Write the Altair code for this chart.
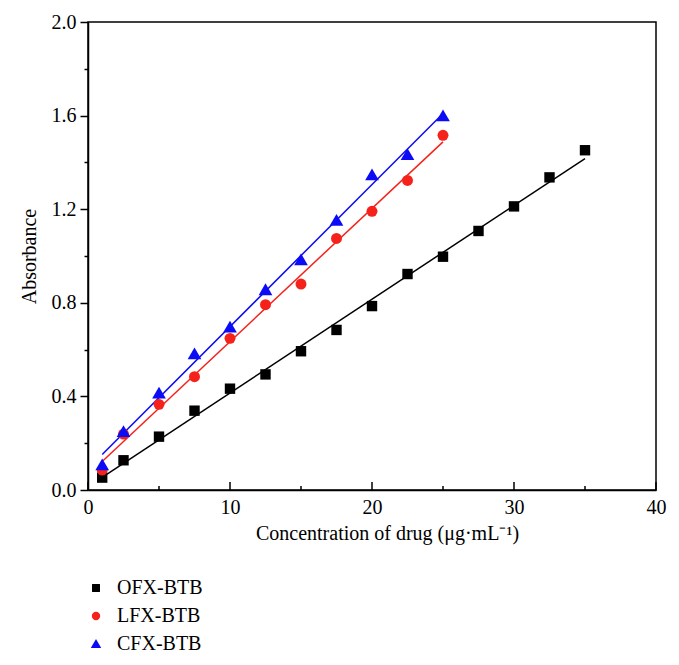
import altair as alt
import pandas as pd

# ---- data ----
ofx_x = [1, 2.5, 5, 7.5, 10, 12.5, 15, 17.5, 20, 22.5, 25, 27.5, 30, 32.5, 35]
ofx_y = [0.053, 0.127, 0.228, 0.339, 0.433, 0.494, 0.593, 0.684, 0.786, 0.923, 0.997, 1.107, 1.212, 1.336, 1.452]
lfx_x = [1, 2.5, 5, 7.5, 10, 12.5, 15, 17.5, 20, 22.5, 25]
lfx_y = [0.085, 0.239, 0.366, 0.484, 0.648, 0.792, 0.880, 1.075, 1.191, 1.323, 1.516]
cfx_x = [1, 2.5, 5, 7.5, 10, 12.5, 15, 17.5, 20, 22.5, 25]
cfx_y = [0.107, 0.249, 0.413, 0.581, 0.695, 0.855, 0.983, 1.151, 1.346, 1.432, 1.598]

series_names = ["OFX-BTB", "LFX-BTB", "CFX-BTB"]
series_colors = ["#000000", "#f5221b", "#0b0bf5"]
series_shapes = [
    "M-0.95,-0.95H0.95V0.95H-0.95Z",
    "circle",
    "M0,-1.2L1.25,0.95L-1.25,0.95Z",
]

x_major_ticks = [0, 10, 20, 30, 40]
x_minor_ticks = [5, 15, 25, 35]
y_ticks = [0.0, 0.2, 0.4, 0.6, 0.8, 1.0, 1.2, 1.4, 1.6, 1.8, 2.0]

rows = []
for name, xs, ys in zip(series_names, [ofx_x, lfx_x, cfx_x], [ofx_y, lfx_y, cfx_y]):
    for a, b in zip(xs, ys):
        rows.append({"series": name, "x": a, "y": b})
df = pd.DataFrame(rows)

W, H = 568, 468
FONT = "Liberation Serif"

xscale = alt.Scale(domain=[0, 40], nice=False)
yscale = alt.Scale(domain=[0, 2.0], nice=False)
cscale = alt.Scale(domain=series_names, range=series_colors)
sscale = alt.Scale(domain=series_names, range=series_shapes)

xaxis = alt.Axis(
    values=x_major_ticks, ticks=False, grid=False, labelFontSize=20,
    labelPadding=7, title="Concentration of drug (μg·mL⁻¹)", titleFontSize=20,
    titleFontWeight="normal", titlePadding=6, titleX=299, domainColor="black",
    domainWidth=1.5, labelColor="black", titleColor="black", labelFlush=False,
)
yaxis = alt.Axis(
    values=y_ticks, grid=False, labelFontSize=20,
    labelExpr="round(datum.value*10) % 4 == 0 ? format(datum.value, '.1f') : ''",
    tickSize={"condition": {"test": "round(datum.value*10) % 4 == 0", "value": 8}, "value": 4},
    tickColor="black", tickWidth=1.5, labelPadding=4,
    title="Absorbance", titleFontSize=20, titleFontWeight="normal", titlePadding=12,
    domainColor="black", domainWidth=1.5, labelColor="black", titleColor="black",
)

base = alt.Chart(df)

line_layers = []
for name, col in zip(series_names, series_colors):
    line_layers.append(
        base.transform_filter(alt.datum.series == name)
        .transform_regression("x", "y")
        .mark_line(strokeWidth=1.5, color=col)
        .encode(
            x=alt.X("x:Q", scale=xscale, axis=xaxis),
            y=alt.Y("y:Q", scale=yscale, axis=yaxis),
        )
    )

points = base.mark_point(filled=True, opacity=1, size=120).encode(
    x=alt.X("x:Q", scale=xscale, axis=xaxis),
    y=alt.Y("y:Q", scale=yscale, axis=yaxis),
    color=alt.Color("series:N", scale=cscale, title=None,
                    legend=alt.Legend(orient="none", legendX=-2, legendY=556,
                                      labelFontSize=20, rowPadding=8, symbolSize=70,
                                      labelOffset=11, labelColor="black",
                                      symbolStrokeWidth=0)),
    shape=alt.Shape("series:N", scale=sscale, title=None),
)

tick_df_major = pd.DataFrame({"t": x_major_ticks})
tick_df_minor = pd.DataFrame({"t": x_minor_ticks})
major = alt.Chart(tick_df_major).mark_rule(color="black", strokeWidth=1.5).encode(
    x=alt.X("t:Q", scale=xscale, axis=xaxis), y=alt.value(H), y2=alt.value(H - 8)
)
minor = alt.Chart(tick_df_minor).mark_rule(color="black", strokeWidth=1.5).encode(
    x=alt.X("t:Q", scale=xscale, axis=xaxis), y=alt.value(H), y2=alt.value(H - 4)
)

chart = alt.layer(*line_layers, major, minor, points).properties(
    width=W, height=H,
    autosize=alt.AutoSizeParams(type="none"),
    padding={"left": 80, "top": 14, "right": 15, "bottom": 170},
).configure(font=FONT).configure_view(stroke="black", strokeWidth=1.5).configure_axis(
    labelFont=FONT, titleFont=FONT
).configure_legend(labelFont=FONT)

chart.save("out.html", embed_options={"renderer": "svg", "actions": False})
